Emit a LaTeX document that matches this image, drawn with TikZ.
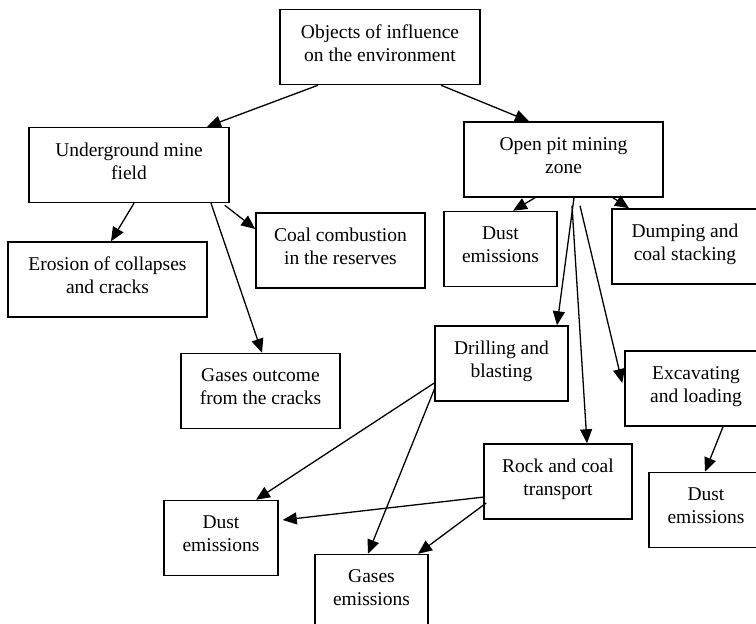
\documentclass[tikz,border=0pt]{standalone}
\usepackage{fontspec}
\setmainfont{Liberation Serif}
\usetikzlibrary{arrows.meta,calc}

\tikzset{
  objbox/.style = {shape=rectangle, draw, align=center,
                   line width=0.75pt, inner sep=0pt,
                   minimum height=37.5pt,
                   font=\fontsize{9.75}{11.5}\selectfont,
                   execute at end node={\rule[-4pt]{0pt}{0pt}}},
  link/.style   = {draw, line width=0.65pt,
                   -{Triangle[length=7pt,width=6pt]}}
}

\begin{document}
\begin{tikzpicture}[x=0.5pt, y=-0.5pt]
\clip (0,0) rectangle (756,624);
\fill[white] (0,0) rectangle (756,624);

% top level
\node[objbox, minimum width=100pt] (root) at (380,47)
  {Objects of influence\\on the environment};
\node[objbox, minimum width=100pt] (under) at (129,165)
  {Underground mine\\field};
\node[objbox, minimum width=99.5pt] (openpit) at (563.5,159.5)
  {Open pit mining\\zone};

% underground branch
\node[objbox, minimum width=99.5pt] (erosion) at (107.5,279.5)
  {Erosion of collapses\\and cracks};
\node[objbox, minimum width=84.5pt] (coal) at (340.5,250.5)
  {Coal combustion\\in the reserves};
\node[objbox, minimum width=79.5pt] (gasout) at (260.5,391)
  {Gases outcome\\from the cracks};

% open pit branch
\node[objbox, minimum width=56.5pt] (dustpit) at (500.5,249)
  {Dust\\emissions};
\node[objbox, minimum width=73pt] (dumping) at (685,246.5)
  {Dumping and\\coal stacking};
\node[objbox, minimum width=66.5pt] (drilling) at (501.5,363.5)
  {Drilling and\\blasting};
\node[objbox, minimum width=71pt] (excav) at (696,388.5)
  {Excavating\\and loading};
\node[objbox, minimum width=74pt] (rock) at (558,481.5)
  {Rock and coal\\transport};
\node[objbox, minimum width=57pt] (dustexc) at (706,510)
  {Dust\\emissions};
\node[objbox, minimum width=57pt] (dustleft) at (221,538)
  {Dust\\emissions};
\node[objbox, minimum width=56.5pt] (gasem) at (371.5,592)
  {Gases\\emissions};

% connectors
\draw[link] ($(root.south)+(-62,0)$) -- ($(under.north)+(78,0)$);
\draw[link] ($(root.south)+(61,0)$) -- ($(openpit.north)+(-34.5,0)$);

\draw[link] ($(under.south)+(5,0)$) -- ($(erosion.north)+(3.5,0)$);
\draw[link] ($(under.south)+(82,0)$) -- ($(gasout.north)+(1.5,0)$);
\draw[link] ($(under.south east)+(-5,2)$) -- ($(coal.west)+(0,-21.5)$);

\draw[link] ($(openpit.south)+(-28.5,0)$) -- ($(dustpit.north)+(12.5,0)$);
\draw[link] ($(openpit.south)+(49.5,0)$) -- ($(dumping.north)+(-56,0)$);
\draw[link] ($(openpit.south)+(10.5,0)$) -- ($(drilling.north)+(55.5,0)$);
\draw[link] ($(openpit.south)+(8.5,8)$) -- ($(rock.north)+(29,0)$);
\draw[link] ($(openpit.south)+(16.5,8)$) -- ($(excav.west)+(-2,-5.5)$);
\draw[link] ($(excav.south)+(27,0)$) -- ($(dustexc.north)+(-1,0)$);

\draw[link] ($(drilling.west)+(0,19.5)$) -- ($(dustleft.north)+(35,0)$);
\draw[link] ($(drilling.west)+(1,23.5)$) -- ($(gasem.north)+(-3.5,0)$);
\draw[link] ($(rock.west)+(1,15.5)$) -- ($(dustleft.east)+(4,-18)$);
\draw[link] ($(rock.west)+(3,21.5)$) -- ($(gasem.north)+(46.5,0)$);
\end{tikzpicture}
\end{document}
